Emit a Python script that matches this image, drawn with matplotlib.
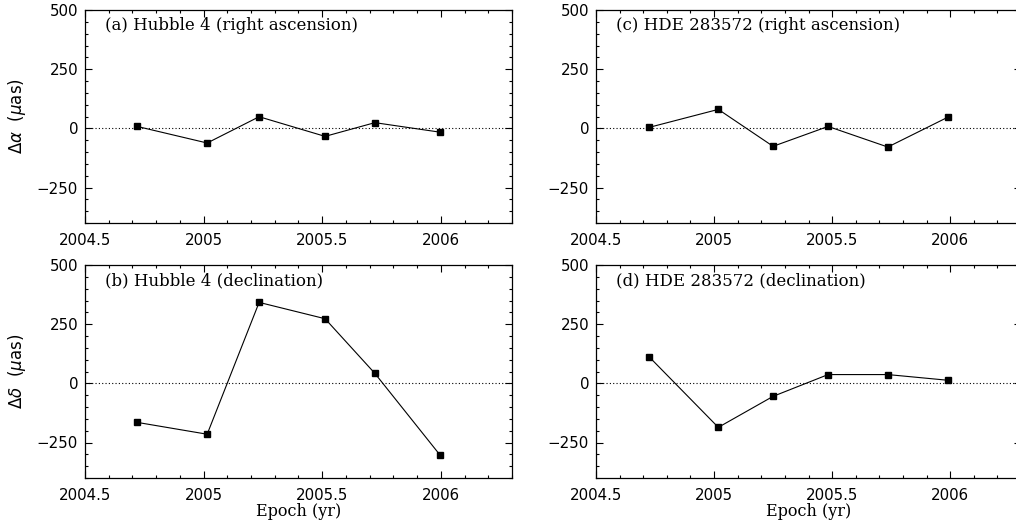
import numpy as np
import matplotlib.pyplot as plt
from matplotlib.ticker import MultipleLocator

# epochs (yr) and offsets (micro-arcsec)
epoch_hub = [2004.72, 2005.015, 2005.234, 2005.512, 2005.722, 2005.995]
hub_ra = [8, -62, 49, -34, 24, -16]
hub_dec = [-165, -215, 342, 273, 42, -301]

epoch_hde = [2004.725, 2005.018, 2005.25, 2005.483, 2005.736, 2005.99]
hde_ra = [4, 80, -76, 8, -79, 47]
hde_dec = [112, -186, -55, 37, 37, 13]

panels = [
    ("(a) Hubble 4 (right ascension)", epoch_hub, hub_ra),
    ("(b) Hubble 4 (declination)", epoch_hub, hub_dec),
    ("(c) HDE 283572 (right ascension)", epoch_hde, hde_ra),
    ("(d) HDE 283572 (declination)", epoch_hde, hde_dec),
]

W, H = 1016, 527
fig = plt.figure(figsize=(W / 100, H / 100), dpi=100)

# axes boxes in pixels: (left, top, right, bottom)
boxes = [(85, 10, 512, 223), (85, 265, 512, 478),
         (596, 10, 1021, 223), (596, 265, 1021, 478)]

tick_font = dict(family="DejaVu Sans", size=10.8)
serif = "DejaVu Serif"

for i, ((title, x, y), (l, t, r, b)) in enumerate(zip(panels, boxes)):
    ax = fig.add_axes([l / W, 1 - b / H, (r - l) / W, (b - t) / H])
    ax.plot(x, y, color="black", lw=0.8, marker="s", ms=4.6, mfc="black", mec="black")
    ax.axhline(0, color="black", lw=0.8, ls=(0, (1, 2)))
    ax.set_xlim(2004.5, 2006.3)
    ax.set_ylim(-400, 500)
    ax.xaxis.set_minor_locator(MultipleLocator(0.1))
    ax.yaxis.set_minor_locator(MultipleLocator(50))
    ax.set_xticks([2004.5, 2005, 2005.5, 2006])
    ax.set_xticklabels(["2004.5", "2005", "2005.5", "2006"], fontdict=tick_font)
    ax.set_yticks([500, 250, 0, -250])
    ax.set_yticklabels(["500", "250", "0", "\u2212250"], fontdict=tick_font)
    ax.tick_params(which="both", direction="in", top=True, right=True, width=0.8)
    ax.tick_params(which="major", length=5)
    ax.tick_params(axis="x", which="major", pad=7)
    ax.tick_params(axis="y", which="major", pad=5)
    ax.tick_params(which="minor", length=2.5)
    for s in ax.spines.values():
        s.set_linewidth(0.9)
    ax.text(0.047, 0.925, title, transform=ax.transAxes, family=serif,
            fontsize=12, va="center", ha="left")
    if i == 0:
        ax.set_ylabel(r"$\Delta\alpha$  ($\mu$as)", fontsize=12, labelpad=6)
    if i == 1:
        ax.set_ylabel(r"$\Delta\delta$  ($\mu$as)", fontsize=12, labelpad=6)
    if i in (1, 3):
        ax.set_xlabel("Epoch (yr)", family=serif, fontsize=11.5, labelpad=0)

fig.savefig("out.png", dpi=100)
